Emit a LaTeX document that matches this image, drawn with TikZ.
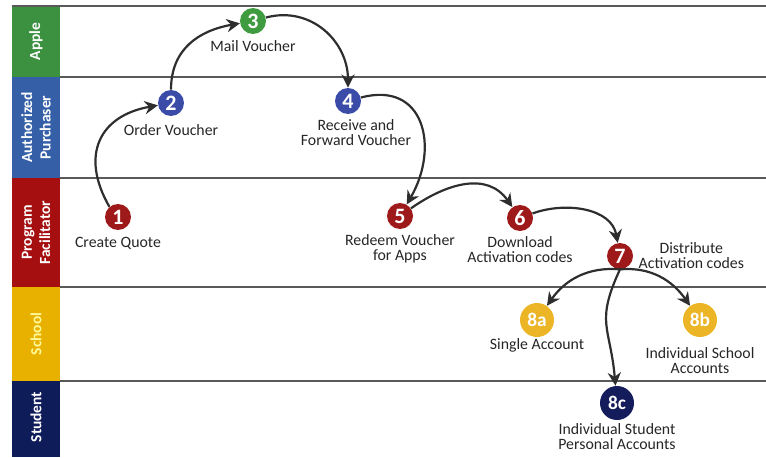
\documentclass[tikz,border=0pt]{standalone}
\usepackage{fontspec}
\setmainfont{Carlito}
\usetikzlibrary{positioning, arrows.meta}

\definecolor{lanegreen}{HTML}{3C9140}
\definecolor{laneblue}{HTML}{3560A8}
\definecolor{lanered}{HTML}{A50F0F}
\definecolor{laneyellow}{HTML}{E8B100}
\definecolor{lanenavy}{HTML}{0F1C5A}
\definecolor{dotred}{HTML}{9E1A1A}
\definecolor{dotblue}{HTML}{3A4CA8}
\definecolor{dotgreen}{HTML}{3F9B3F}
\definecolor{dotgold}{HTML}{EBB526}
\definecolor{dotnavy}{HTML}{141C5C}

\begin{document}
\begin{tikzpicture}[
    x=0.02cm, y=0.02cm,
    lanetxt/.style={font=\fontsize{8.8}{10.4}\selectfont\bfseries, text=white, align=center, rotate=90, inner sep=0pt},
    sep/.style={draw=black!65, line width=0.7pt},
    stepdot/.style={circle, minimum size=0.52cm, inner sep=0pt, text=white, font=\fontsize{12.5}{12.5}\selectfont\bfseries},
    bigdot/.style={stepdot, minimum size=0.68cm, font=\fontsize{11}{11}\selectfont\bfseries},
    txt/.style={font=\fontsize{9}{8.5}\selectfont, text=black!85, align=center, inner sep=0pt},
    arrow/.style={-{Stealth[length=7.5pt, width=7.5pt]}, line width=1.25pt, draw=black!82},
]
\useasboundingbox (0,0) rectangle (766,457);

% Lanes
\fill[lanegreen]  (12,451) rectangle (60,380);
\fill[laneblue]   (12,380) rectangle (60,279);
\fill[lanered]    (12,279) rectangle (60,170);
\fill[laneyellow] (12,170) rectangle (60,76);
\fill[lanenavy]   (12,76)  rectangle (60,0);
\node[lanetxt] (apple)   at (36,415.5) {Apple};
\node[lanetxt] (auth)    at (36,329.5) {Authorized\\Purchaser};
\node[lanetxt] (facil)   at (36,224.5) {Program\\Facilitator};
\node[lanetxt, text=yellow!40] (school) at (36,123) {School};
\node[lanetxt] (student) at (36,40) {Student};

\draw[sep] (12,451) -- (766,451);
\draw[sep] (60,380) -- (766,380);
\draw[sep] (60,279) -- (766,279);
\draw[sep] (60,170) -- (766,170);
\draw[sep] (60,76)  -- (766,76);

% Steps
\node[stepdot, fill=dotred]   (n1) at (118,240) {1};
\node[stepdot, fill=dotblue]  (n2) at (171,354) {2};
\node[stepdot, fill=dotgreen] (n3) at (253,436) {3};
\node[stepdot, fill=dotblue]  (n4) at (348,356) {4};
\node[stepdot, fill=dotred]   (n5) at (400,241) {5};
\node[stepdot, fill=dotred]   (n6) at (520,239) {6};
\node[stepdot, fill=dotred]   (n7) at (620,201) {7};
\node[bigdot, fill=dotgold]   (n8a) at (537,137) {8a};
\node[bigdot, fill=dotgold]   (n8b) at (700,137) {8b};
\node[bigdot, fill=dotnavy]   (n8c) at (617,54)  {8c};

% Labels
\node[txt, below=0.14cm of n1] (l1) {Create Quote};
\node[txt, below=0.16cm of n2] (l2) {Order Voucher};
\node[txt, below=0.12cm of n3] (l3) {Mail Voucher};
\node[txt, below=0.1cm of n4, xshift=0.16cm] (l4) {Receive and\\Forward Voucher};
\node[txt, below=0.1cm of n5] (l5) {Redeem Voucher\\for Apps};
\node[txt, below=0.1cm of n6] (l6) {Download\\Activation codes};
\node[txt, right=0.1cm of n7] (l7) {Distribute\\Activation codes};
\node[txt, below=0.02cm of n8a] (l8a) {Single Account};
\node[txt, below=0.2cm of n8b] (l8b) {Individual School\\Accounts};
\node[txt, below=0.06cm of n8c] (l8c) {Individual Student\\Personal Accounts};

% Flow
\draw[arrow] (n1.130) to[out=120, in=190, looseness=1.35] (n2);
\draw[arrow] (n2.north) to[out=90, in=190, looseness=1.1] (n3);
\draw[arrow] (n3) to[out=15, in=90, looseness=1.1] (n4);
\draw[arrow] (n4) to[out=15, in=60, looseness=1.45] (n5);
\draw[arrow] (n5) to[out=35, in=125, looseness=1.1] (n6);
\draw[arrow] (n6) to[out=20, in=100] (n7);
\draw[arrow] (n7.south) to[out=175, in=55] (n8a);
\draw[arrow] (n7.south) to[out=5, in=125] (n8b);
\draw[arrow] (n7.south) to[out=245, in=95, looseness=1.3] (n8c);

\end{tikzpicture}
\end{document}
